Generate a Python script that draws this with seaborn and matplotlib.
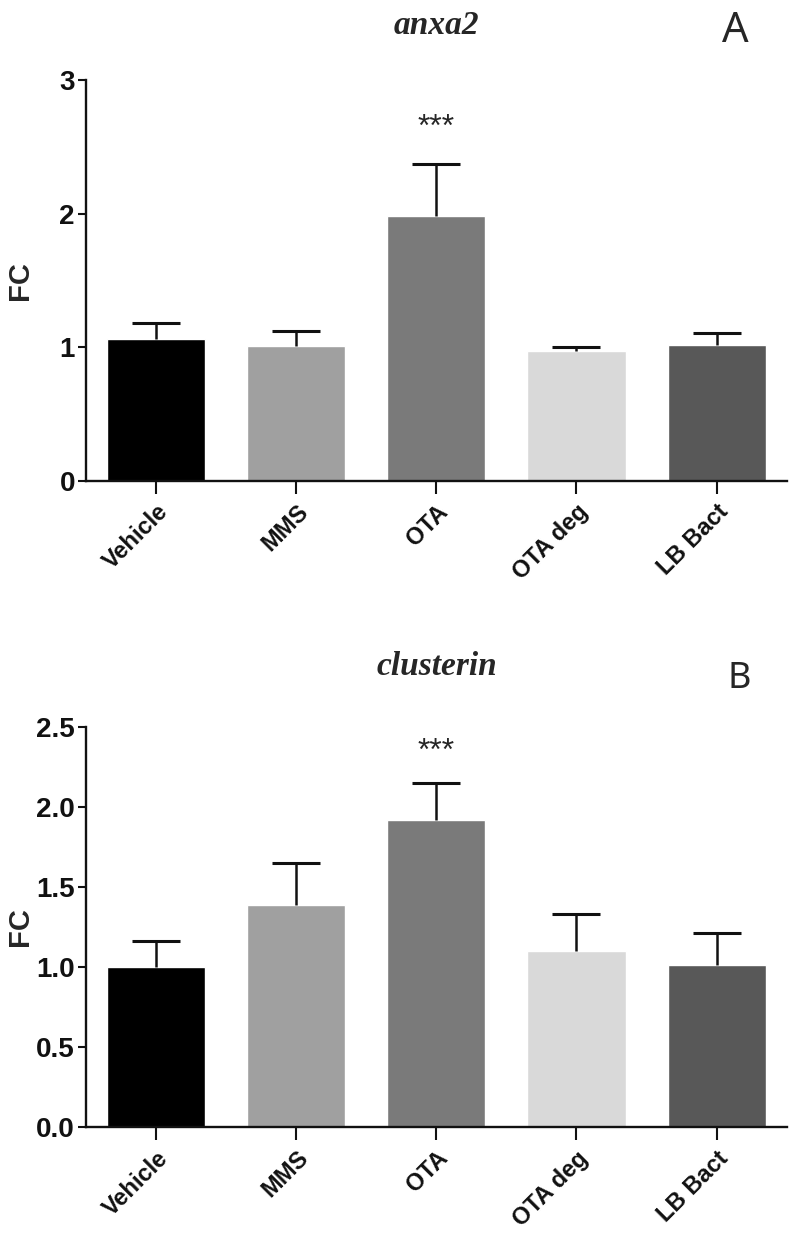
import pandas as pd
import numpy as np

import matplotlib
matplotlib.use("Agg")
import matplotlib.pyplot as plt
import seaborn as sns

# data
groups = ["Vehicle", "MMS", "OTA", "OTA deg", "LB Bact"]
bar_colors = ["#000000", "#a0a0a0", "#7a7a7a", "#d9d9d9", "#585858"]

anxa2_fc = [1.06, 1.01, 1.98, 0.97, 1.02]
anxa2_err = [0.12, 0.11, 0.39, 0.03, 0.09]

clusterin_fc = [1.00, 1.39, 1.92, 1.10, 1.01]
clusterin_err = [0.16, 0.26, 0.23, 0.23, 0.20]

anxa2_ticks = [0, 1, 2, 3]
anxa2_ticklabels = ["0", "1", "2", "3"]
clusterin_ticks = [0.0, 0.5, 1.0, 1.5, 2.0, 2.5]
clusterin_ticklabels = ["0.0", "0.5", "1.0", "1.5", "2.0", "2.5"]

sns.set_style("ticks")
plt.rcParams["font.family"] = ["Liberation Sans", "DejaVu Sans"]


def draw_panel(ax, fc, err, ymax, ticks, ticklabels, star_y):
    df = pd.DataFrame({"group": groups, "fc": fc})
    sns.barplot(data=df, x="group", y="fc", hue="group", palette=bar_colors,
                width=0.7, saturation=1, errorbar=None, legend=False, ax=ax)

    # upper error bars only, hide the caps drawn at the bar tops
    _, caps, _ = ax.errorbar(np.arange(len(groups)), fc, yerr=[np.zeros(len(fc)), err],
                             fmt="none", ecolor="#111111", elinewidth=1.8,
                             capsize=17, capthick=2.2)
    caps[0].set_visible(False)

    ax.text(2, star_y, "***", ha="center", va="center", fontsize=23)

    ax.set_xlim(-0.5, 4.5)
    ax.set_ylim(0, ymax)
    ax.set_yticks(ticks)
    ax.set_yticklabels(ticklabels, fontsize=20, fontweight="bold")
    ax.set_xticks(range(len(groups)))
    ax.set_xticklabels(groups, rotation=45, ha="right", rotation_mode="anchor",
                       fontsize=17, fontweight="bold")
    ax.set_xlabel("")
    ax.set_ylabel("FC", fontsize=21, fontweight="bold")
    ax.yaxis.set_label_coords(-0.075, 0.5)

    sns.despine(ax=ax)
    for side in ["left", "bottom"]:
        ax.spines[side].set_linewidth(1.7)
        ax.spines[side].set_color("#111111")
    ax.tick_params(axis="y", length=6, width=1.5, pad=2, colors="#111111")
    ax.tick_params(axis="x", length=9, width=1.5, pad=5, colors="#111111")


fig = plt.figure(figsize=(7.97, 12.36), dpi=100)

ax1 = fig.add_axes([0.108, 0.611, 0.879, 0.324])
draw_panel(ax1, anxa2_fc, anxa2_err, 3, anxa2_ticks, anxa2_ticklabels, 2.64)

ax2 = fig.add_axes([0.108, 0.088, 0.879, 0.324])
draw_panel(ax2, clusterin_fc, clusterin_err, 2.5, clusterin_ticks, clusterin_ticklabels, 2.34)

fig.text(0.548, 0.979, "anxa2", ha="center", va="center", fontsize=24,
         fontweight="bold", fontstyle="italic", family="Liberation Serif")
fig.text(0.922, 0.975, "A", ha="center", va="center", fontsize=30,
         family="Noto Sans")

fig.text(0.548, 0.461, "clusterin", ha="center", va="center", fontsize=24,
         fontweight="bold", fontstyle="italic", family="Liberation Serif")
fig.text(0.928, 0.451, "B", ha="center", va="center", fontsize=26,
         family="Noto Sans")

fig.savefig("out.png", dpi=100)
